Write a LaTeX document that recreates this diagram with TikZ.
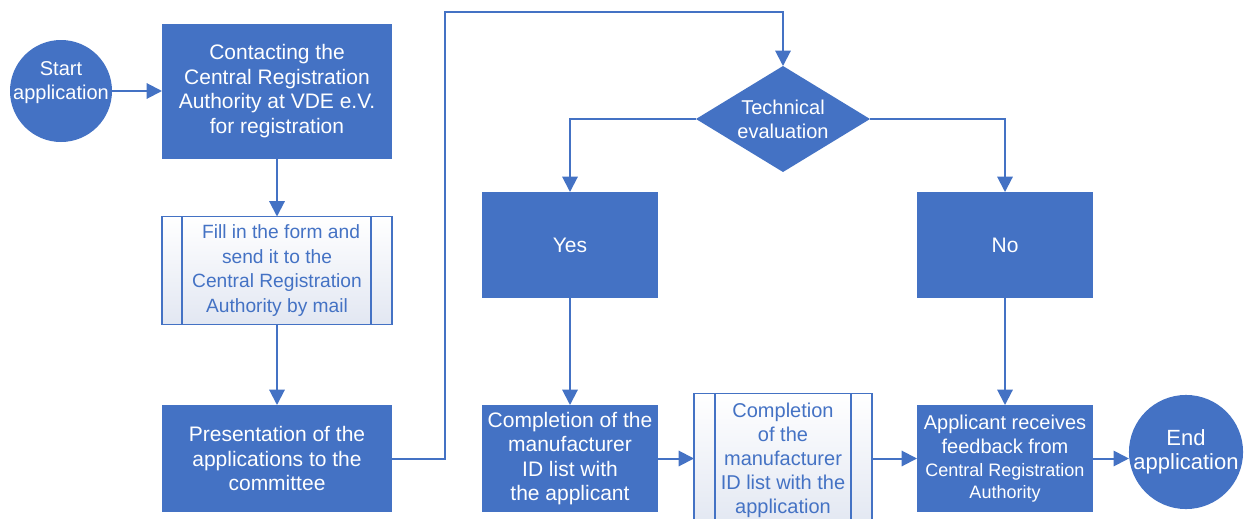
\documentclass[tikz,border=0pt]{standalone}
\usepackage{fontspec}
\setmainfont{Liberation Sans}
\usetikzlibrary{shapes.geometric,arrows.meta}
\definecolor{myblue}{RGB}{68,114,196}
\definecolor{pdbot}{RGB}{226,231,242}
\newcommand{\fsA}{\fontsize{15.75pt}{18.4pt}\selectfont}
\newcommand{\fsB}{\fontsize{15pt}{18pt}\selectfont}
\newcommand{\fsC}{\fontsize{13.5pt}{16pt}\selectfont}
\newcommand{\fsD}{\fontsize{16.5pt}{18.4pt}\selectfont}
\newcommand{\fsE}{\fontsize{14.4pt}{18.4pt}\selectfont}
\tikzset{
  procbox/.style={rectangle, fill=myblue, text=white, inner sep=0pt, outer sep=0pt, align=center, font=\fsA},
  predbox/.style={rectangle, draw=myblue, line width=1.2pt, top color=white, bottom color=pdbot, text=myblue, inner sep=0pt, outer sep=0pt, align=center, font=\fsB},
  termc/.style={circle, fill=myblue, text=white, inner sep=0pt, outer sep=0pt, align=center},
  decis/.style={diamond, fill=myblue, text=white, inner sep=0pt, outer sep=0pt, align=center, font=\fsB, aspect=1.64},
  conn/.style={draw=myblue, line width=1.5pt, -{Triangle[length=11.5pt,width=11.5pt]}},
  plainline/.style={draw=myblue, line width=1.2pt}
}
\begin{document}
\begin{tikzpicture}[x=0.75pt,y=-0.75pt]
\useasboundingbox (0,0) rectangle (1245,518);
\fill[white] (0,0) rectangle (1245,518);

% start
\node[termc, minimum size=76.5pt] (start) at (61,91) {};
\node[text=white, align=center, font=\fsB, inner sep=0pt] (starttxt) at (61,83) {Start\\application};

% left column
\node[procbox, minimum width=172.5pt, minimum height=101.25pt] (contact) at (277,91)
  {Contacting the\\Central Registration\\Authority at VDE e.V.\\for registration};
\node[predbox, font=\fsE, minimum width=172.5pt, minimum height=81pt] (fill) at (277,270.5)
  {\hspace*{6pt}Fill in the form and\\send it to the\\Central Registration\\Authority by mail};
\draw[plainline] ([xshift=15pt]fill.north west) -- ([xshift=15pt]fill.south west);
\draw[plainline] ([xshift=-15.75pt]fill.north east) -- ([xshift=-15.75pt]fill.south east);
\node[procbox, minimum width=172.5pt, minimum height=80.25pt] (present) at (277,458.5)
  {Presentation of the\\applications to the\\committee};

% decision
\node[decis, minimum width=130.5pt, minimum height=79.5pt] (diam) at (783,119)
  {Technical\\evaluation};

\node[procbox, minimum width=132pt, minimum height=79.5pt] (yes) at (570,245) {Yes};
\node[procbox, minimum width=132pt, minimum height=79.5pt] (no) at (1005,245) {No};

% bottom row
\node[procbox, minimum width=132pt, minimum height=80.25pt] (comp) at (570,458.5)
  {Completion of the\\manufacturer\\ID list with\\the applicant};
\node[predbox, minimum width=133.5pt, minimum height=99.75pt] (comp2) at (783,460)
  {Completion\\of the\\manufacturer\\ID list with the\\application};
\draw[plainline] ([xshift=15.75pt]comp2.north west) -- ([xshift=15.75pt]comp2.south west);
\draw[plainline] ([xshift=-15.75pt]comp2.north east) -- ([xshift=-15.75pt]comp2.south east);
\node[procbox, minimum width=132pt, minimum height=80.25pt] (appl) at (1005,458.5)
  {\fontsize{15pt}{18.4pt}\selectfont Applicant receives\\\fontsize{15pt}{18.4pt}\selectfont feedback from\\[-1pt]{\fsC Central Registration}\\[-2pt]{\fsC Authority}};
\node[termc, minimum size=72pt, font=\fsD] (endc) at (1186,452) {End\\application};

% connectors
\coordinate (c1) at (445,12);
\draw[conn] (start) -- (contact);
\draw[conn] (contact) -- (fill);
\draw[conn] (fill) -- (present);
\draw[conn] (present.east) -| (c1) -| (diam.north);
\draw[conn] (diam.west) -| (yes.north);
\draw[conn] (diam.east) -| (no.north);
\draw[conn] (yes) -- (comp);
\draw[conn] (no) -- (appl);
\draw[conn] (comp) -- (comp2.west |- comp.east);
\draw[conn] (comp2.east |- appl.west) -- (appl);
\draw[conn] (appl.east) -- (appl.east -| endc.west);
\end{tikzpicture}
\end{document}
